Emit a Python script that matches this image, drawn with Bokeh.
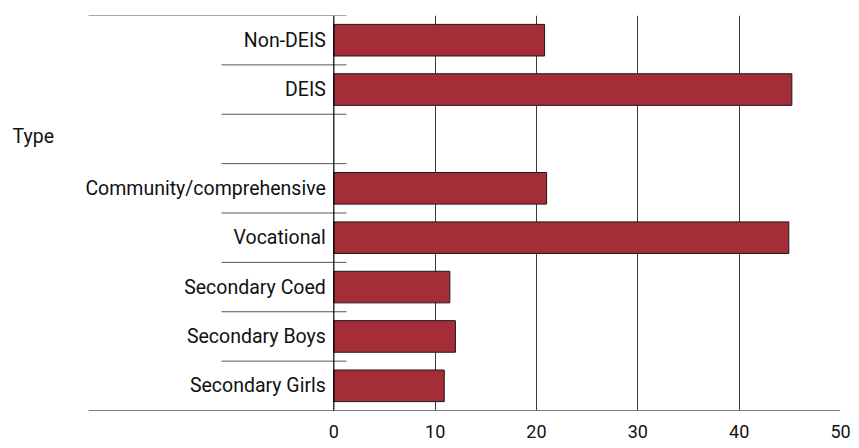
from bokeh.plotting import figure
from bokeh.models import Range1d, FixedTicker, ColumnDataSource, Label
from bokeh.core.properties import value
from bokeh.embed import file_html
from bokeh.resources import INLINE

# ---- data ----
categories = ["Non-DEIS", "DEIS", "", "Community/comprehensive", "Vocational",
              "Secondary Coed", "Secondary Boys", "Secondary Girls"]
values = [20.8, 45.2, None, 21.0, 44.9, 11.45, 12.0, 10.9]
group_label = "Type"
x_ticks = [0, 10, 20, 30, 40, 50]

FONT = "Roboto"
BAR_COLOR = "#A52D37"

n = len(categories)
p = figure(width=851, height=440, output_backend="svg", toolbar_location=None,
           x_range=Range1d(-32.89, 50), y_range=Range1d(n, 0),
           min_border_left=0, min_border_right=11, min_border_top=15,
           min_border_bottom=23)
p.outline_line_color = None
p.background_fill_color = "white"
p.yaxis.visible = False
p.ygrid.visible = False

# x grid only at 10..50
p.xgrid.ticker = FixedTicker(ticks=[t for t in x_ticks if t > 0])
p.xgrid.grid_line_color = "#3a3a3a"
p.xgrid.grid_line_width = 1
p.xgrid.grid_line_alpha = 1

ax = p.xaxis[0]
ax.ticker = FixedTicker(ticks=x_ticks)
ax.axis_line_color = None
ax.major_tick_line_color = None
ax.minor_tick_line_color = None
ax.major_label_standoff = 8
ax.major_label_text_font = FONT
ax.major_label_text_font_size = "18px"
ax.major_label_text_color = "#111111"

# bars
bar_y = [i + 0.5 for i, v in enumerate(values) if v is not None]
bar_v = [v for v in values if v is not None]
src = ColumnDataSource(dict(y=bar_y, right=bar_v))
p.hbar(y="y", left=0, right="right", height=0.64, source=src,
       fill_color=BAR_COLOR, line_color="#1a1a1a", line_width=1)

# category boundary lines
inner = list(range(1, n))
p.segment(x0=[-11.08] * len(inner), x1=[1.25] * len(inner), y0=inner, y1=inner,
          line_color="#555555", line_width=1)
p.segment(x0=[-24.2], x1=[1.25], y0=[0], y1=[0], line_color="#555555", line_width=1)
p.segment(x0=[-24.2], x1=[50], y0=[n], y1=[n], line_color="#000000", line_width=1)
# vertical axis line at 0
p.segment(x0=[0], x1=[0], y0=[0], y1=[n + 0.05], line_color="#000000", line_width=1.2)

# category labels
lab_src = ColumnDataSource(dict(x=[0] * n, y=[i + 0.5 for i in range(n)], t=categories))
p.text(x="x", y="y", text="t", source=lab_src, x_offset=-8,
       text_align="right", text_baseline="middle",
       text_font=value(FONT), text_font_size="19.5px", text_color="#111111")

# group label
p.add_layout(Label(x=-31.7, y=2.45, text=group_label, text_align="left",
                   text_baseline="middle", text_font=FONT,
                   text_font_size="19.5px", text_color="#111111"))

open("out.html", "w").write(file_html(p, INLINE))
